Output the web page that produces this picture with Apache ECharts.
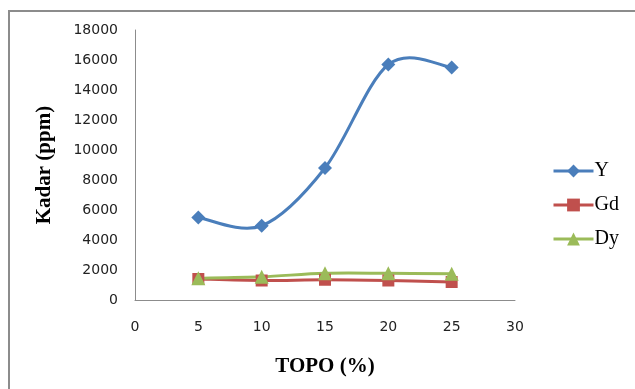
<!DOCTYPE html>
<html>
<head>
<meta charset="utf-8">
<script src="https://cdn.jsdelivr.net/npm/echarts@6/dist/echarts.min.js"></script>
<style>
  html, body { margin: 0; padding: 0; background: #fff; }
  #chart { width: 635px; height: 389px; }
</style>
</head>
<body>
<div id="chart"></div>
<script>
// TOPO concentration (%) on the x axis
const topo = [5, 10, 15, 20, 25];
// Element content in ppm for each TOPO level
const yValues  = [5500, 4950, 8800, 15700, 15500];
const gdValues = [1400, 1300, 1350, 1300, 1200];
const dyValues = [1450, 1550, 1780, 1780, 1750];
const seriesNames = ['Y', 'Gd', 'Dy'];
const seriesColors = ['#4a7ebb', '#c0504d', '#9bbb59'];
const seriesSymbols = ['diamond', 'rect', 'triangle'];
const seriesValues = [yValues, gdValues, dyValues];

const pairs = vals => topo.map((x, i) => [x, vals[i]]);

// Smoothed curve through the data points (cardinal spline, 1/6 tangent factor),
// with each point mapped to pixels by the chart's own coordinate system.
function smoothCurve(vals, color) {
  return function (params, api) {
    if (params.dataIndex !== 0) return null;
    const p = pairs(vals).map(d => api.coord(d));
    const n = p.length;
    const path = [];
    path.push('M' + p[0][0] + ' ' + p[0][1]);
    for (let i = 0; i < n - 1; i++) {
      const p0 = p[Math.max(i - 1, 0)];
      const p1 = p[i];
      const p2 = p[i + 1];
      const p3 = p[Math.min(i + 2, n - 1)];
      const c1x = p1[0] + (p2[0] - p0[0]) / 6;
      const c1y = p1[1] + (p2[1] - p0[1]) / 6;
      const c2x = p2[0] - (p3[0] - p1[0]) / 6;
      const c2y = p2[1] - (p3[1] - p1[1]) / 6;
      path.push('C' + c1x + ' ' + c1y + ' ' + c2x + ' ' + c2y + ' ' + p2[0] + ' ' + p2[1]);
    }
    return {
      type: 'path',
      shape: { pathData: path.join(' ') },
      style: { fill: 'none', stroke: color, lineWidth: 3, lineJoin: 'round', lineCap: 'round' },
      silent: true
    };
  };
}

const chart = echarts.init(document.getElementById('chart'), null, { renderer: 'canvas' });

const axisLabelStyle = { color: '#222', fontFamily: 'DejaVu Sans', fontSize: 14 };
const axisNameStyle = { color: '#000', fontFamily: 'Liberation Serif', fontWeight: 'bold', fontSize: 21 };

const curveSeries = seriesValues.map((vals, k) => ({
  name: seriesNames[k] + ' curve',
  type: 'custom',
  z: 1,
  data: pairs(vals),
  renderItem: smoothCurve(vals, seriesColors[k])
}));

const markerSeries = seriesValues.map((vals, k) => ({
  name: seriesNames[k],
  type: 'line',
  z: 3,
  data: pairs(vals),
  symbol: seriesSymbols[k],
  symbolSize: seriesSymbols[k] === 'rect' ? 12 : 14,
  itemStyle: { color: seriesColors[k] },
  lineStyle: { color: seriesColors[k], width: 3, opacity: 0 }
}));

chart.setOption({
  animation: false,
  backgroundColor: '#fff',
  graphic: [{
    type: 'rect',
    shape: { x: 9, y: 11, width: 700, height: 500 },
    style: { fill: 'none', stroke: '#8c8c8c', lineWidth: 2 },
    silent: true
  }],
  grid: { left: 135, right: 120, top: 30, bottom: 89 },
  legend: {
    orient: 'vertical',
    left: 547,
    top: 156,
    itemWidth: 40,
    itemHeight: 16,
    itemGap: 14,
    data: seriesNames.map((name, k) => ({
      name: name,
      lineStyle: { color: seriesColors[k], width: 3, opacity: 1 }
    })),
    textStyle: { color: '#000', fontFamily: 'Liberation Serif', fontSize: 20, padding: [0, 0, 0, -4] }
  },
  xAxis: {
    type: 'value',
    min: 0, max: 30, interval: 5,
    name: 'TOPO (%)',
    nameLocation: 'middle',
    nameGap: 56,
    nameTextStyle: axisNameStyle,
    axisLine: { lineStyle: { color: '#8c8c8c', width: 1 } },
    axisTick: { show: false },
    splitLine: { show: false },
    axisLabel: Object.assign({ margin: 20 }, axisLabelStyle)
  },
  yAxis: {
    type: 'value',
    min: 0, max: 18000, interval: 2000,
    name: 'Kadar (ppm)',
    nameLocation: 'middle',
    nameGap: 80,
    nameTextStyle: axisNameStyle,
    axisLine: { show: true, lineStyle: { color: '#8c8c8c', width: 1 } },
    axisTick: { show: false },
    splitLine: { show: false },
    axisLabel: Object.assign({ margin: 17, formatter: v => String(v) }, axisLabelStyle)
  },
  series: curveSeries.concat(markerSeries)
});
</script>
</body>
</html>
